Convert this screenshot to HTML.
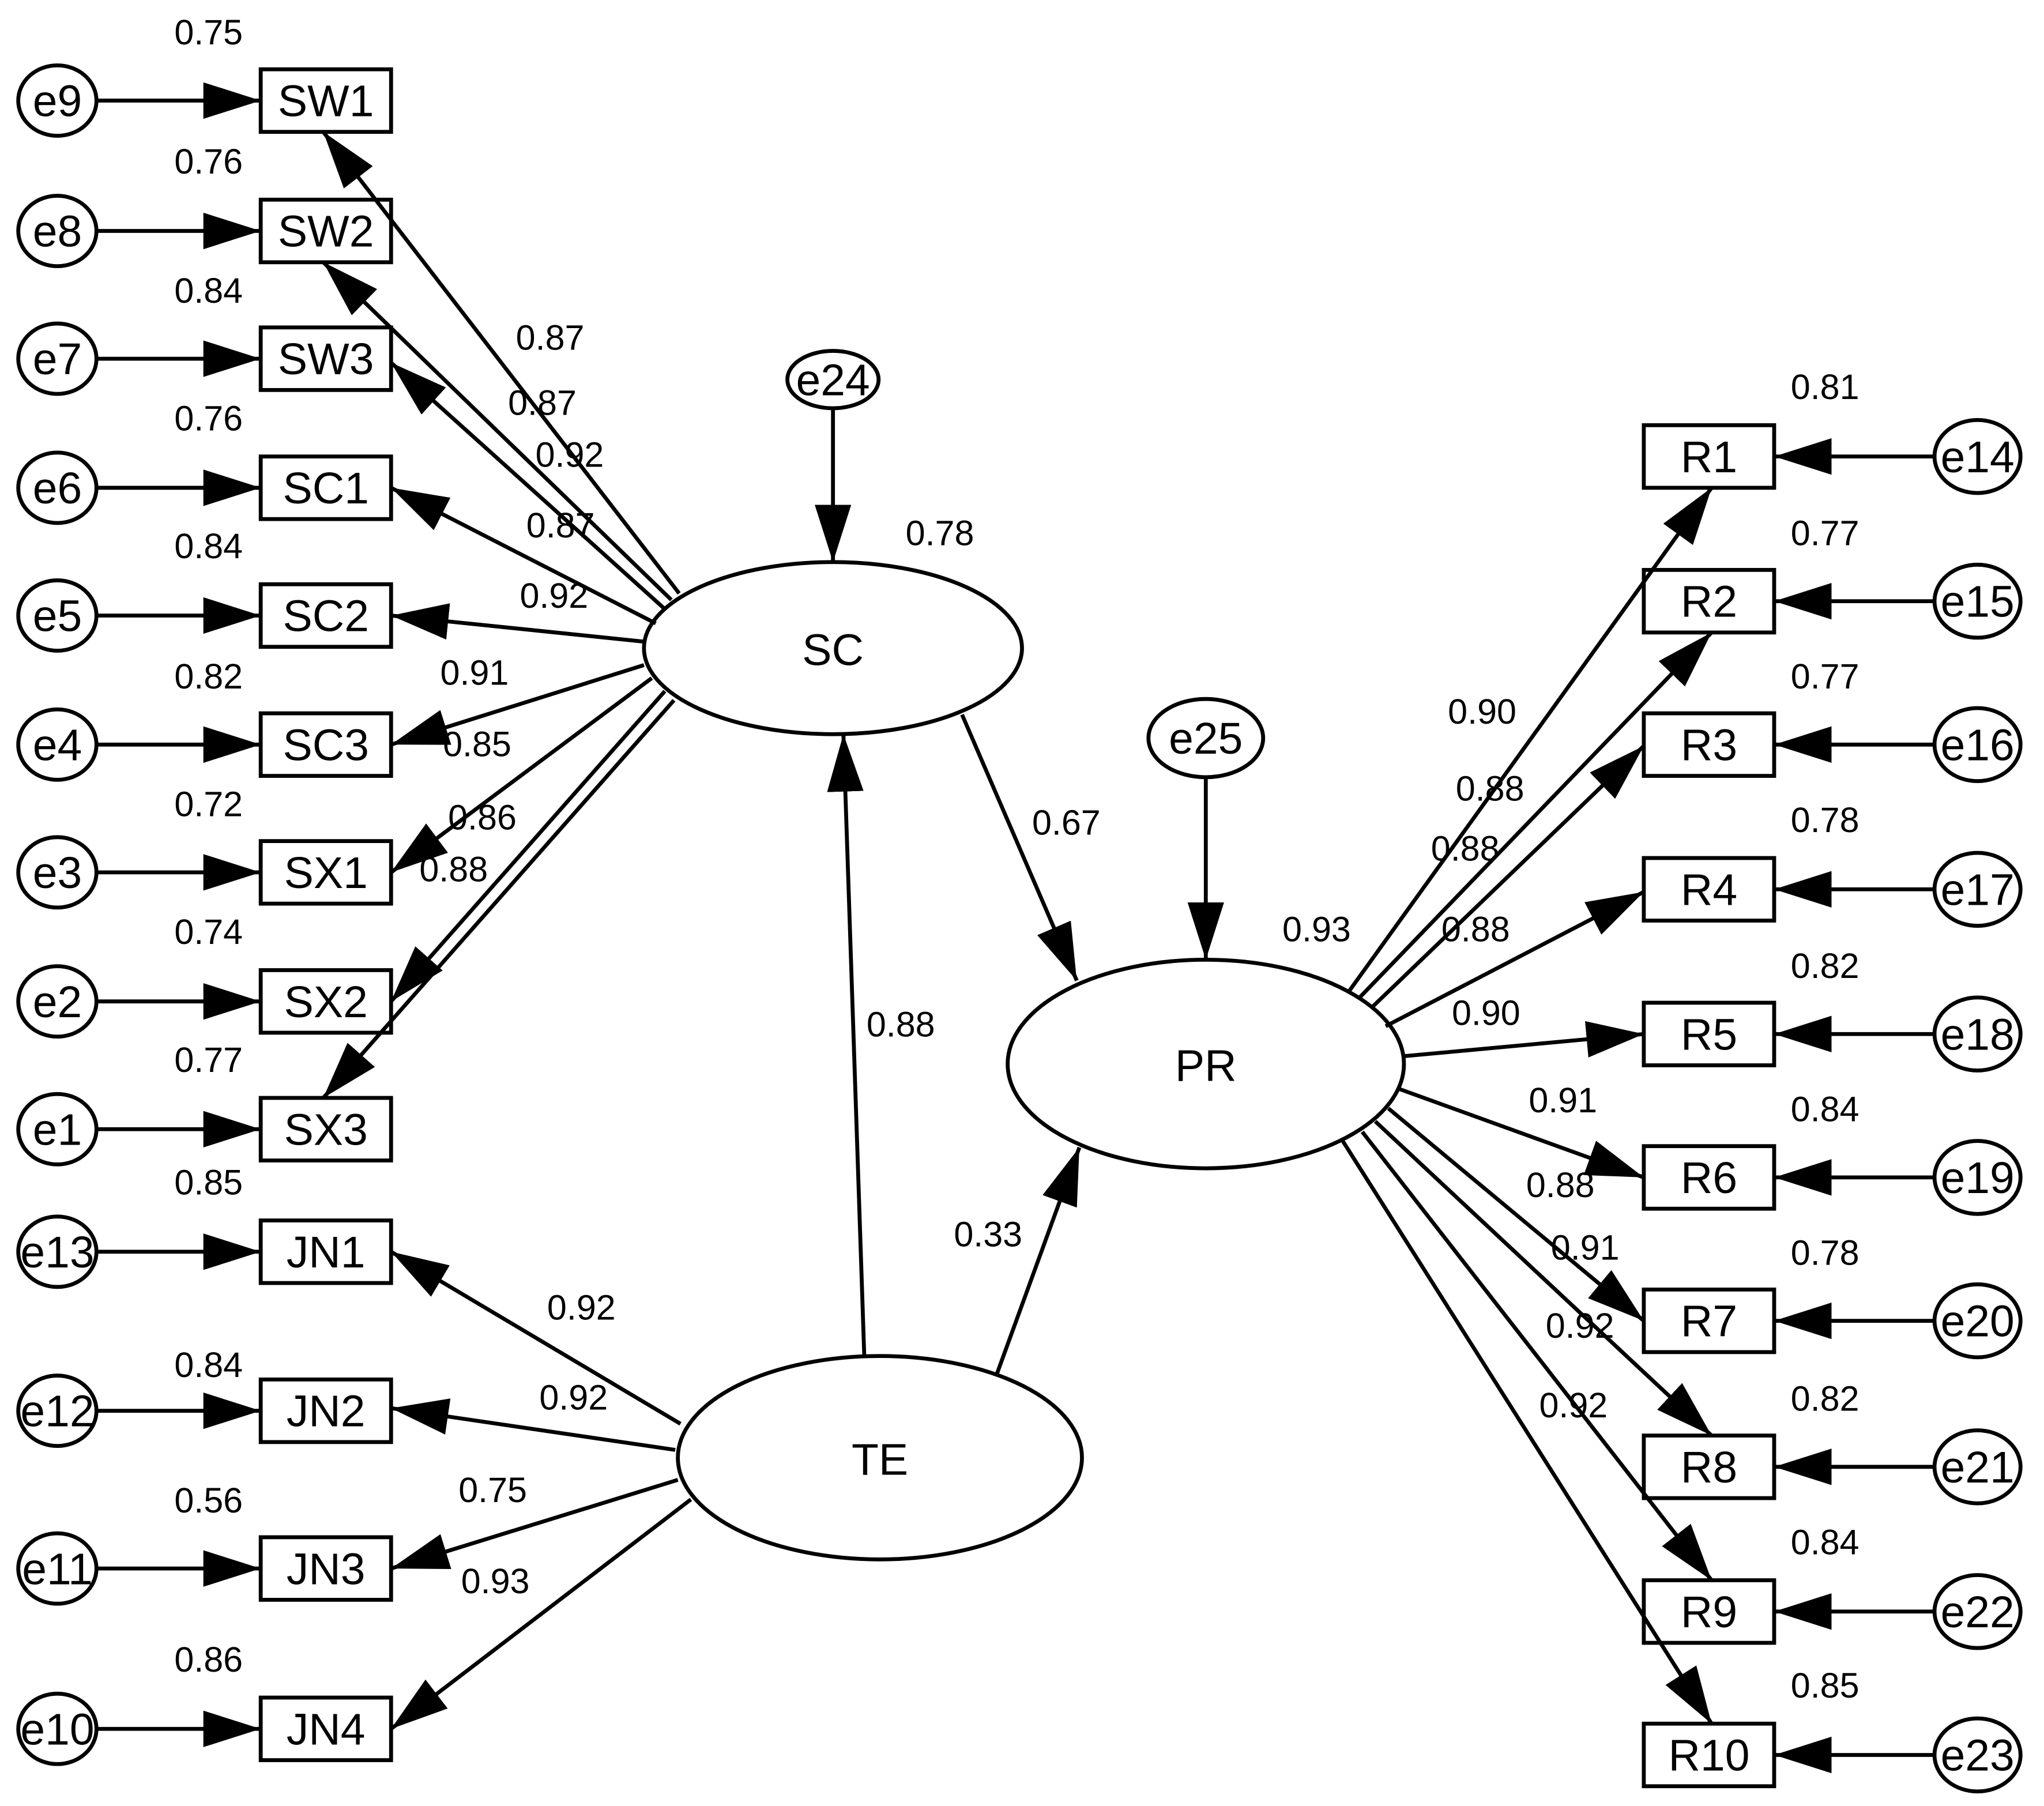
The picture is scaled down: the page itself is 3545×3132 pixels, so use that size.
<!DOCTYPE html>
<html><head><meta charset="utf-8"><style>html,body{margin:0;padding:0;background:#fff}svg{display:block}</style></head>
<body>
<svg xmlns="http://www.w3.org/2000/svg" width="3545" height="3132" viewBox="0 0 1568 1385" font-family="Liberation Sans, Arial, sans-serif">
<defs>
<marker id="a" markerUnits="userSpaceOnUse" markerWidth="46" markerHeight="30" refX="44" refY="14" orient="auto"><path d="M0,0 L44,14 L0,28 z" fill="#000"/></marker>
</defs>
<rect width="1568" height="1385" fill="#fff"/>
<g stroke="#000" stroke-width="3" fill="#fff">
<!-- left error circles -->
<g id="le">
<ellipse cx="44" cy="77" rx="30" ry="27"/><ellipse cx="44" cy="177" rx="30" ry="27"/><ellipse cx="44" cy="275" rx="30" ry="27"/>
<ellipse cx="44" cy="374" rx="30" ry="27"/><ellipse cx="44" cy="472" rx="30" ry="27"/><ellipse cx="44" cy="571" rx="30" ry="27"/>
<ellipse cx="44" cy="669" rx="30" ry="27"/><ellipse cx="44" cy="768" rx="30" ry="27"/><ellipse cx="44" cy="866" rx="30" ry="27"/>
<ellipse cx="44" cy="960" rx="30" ry="27"/><ellipse cx="44" cy="1082" rx="30" ry="27"/><ellipse cx="44" cy="1203" rx="30" ry="27"/><ellipse cx="44" cy="1326" rx="30" ry="27"/>
</g>
<!-- left boxes -->
<rect x="200" y="53" width="100" height="48"/><rect x="200" y="153" width="100" height="48"/><rect x="200" y="251" width="100" height="48"/>
<rect x="200" y="350" width="100" height="48"/><rect x="200" y="448" width="100" height="48"/><rect x="200" y="547" width="100" height="48"/>
<rect x="200" y="645" width="100" height="48"/><rect x="200" y="744" width="100" height="48"/><rect x="200" y="842" width="100" height="48"/>
<rect x="200" y="936" width="100" height="48"/><rect x="200" y="1058" width="100" height="48"/><rect x="200" y="1179" width="100" height="48"/><rect x="200" y="1302" width="100" height="48"/>
<!-- right boxes -->
<rect x="1261" y="326" width="100" height="48"/><rect x="1261" y="437" width="100" height="48"/><rect x="1261" y="547" width="100" height="48"/>
<rect x="1261" y="658" width="100" height="48"/><rect x="1261" y="769" width="100" height="48"/><rect x="1261" y="879" width="100" height="48"/>
<rect x="1261" y="989" width="100" height="48"/><rect x="1261" y="1101" width="100" height="48"/><rect x="1261" y="1212" width="100" height="48"/><rect x="1261" y="1322" width="100" height="48"/>
<!-- right error circles -->
<ellipse cx="1517" cy="350" rx="33" ry="28"/><ellipse cx="1517" cy="461" rx="33" ry="28"/><ellipse cx="1517" cy="571" rx="33" ry="28"/>
<ellipse cx="1517" cy="682" rx="33" ry="28"/><ellipse cx="1517" cy="793" rx="33" ry="28"/><ellipse cx="1517" cy="903" rx="33" ry="28"/>
<ellipse cx="1517" cy="1013" rx="33" ry="28"/><ellipse cx="1517" cy="1125" rx="33" ry="28"/><ellipse cx="1517" cy="1236" rx="33" ry="28"/><ellipse cx="1517" cy="1346" rx="33" ry="28"/>
<!-- latent -->
<ellipse cx="639" cy="497" rx="145" ry="66"/>
<ellipse cx="925" cy="816" rx="152" ry="80"/>
<ellipse cx="675" cy="1118" rx="155" ry="78"/>
<ellipse cx="639" cy="291" rx="35" ry="22"/>
<ellipse cx="925" cy="566" rx="44" ry="30"/>
</g>
<g stroke="#000" stroke-width="3" fill="none" marker-end="url(#a)">
<line x1="74" y1="77" x2="200" y2="77"/><line x1="74" y1="177" x2="200" y2="177"/><line x1="74" y1="275" x2="200" y2="275"/>
<line x1="74" y1="374" x2="200" y2="374"/><line x1="74" y1="472" x2="200" y2="472"/><line x1="74" y1="571" x2="200" y2="571"/>
<line x1="74" y1="669" x2="200" y2="669"/><line x1="74" y1="768" x2="200" y2="768"/><line x1="74" y1="866" x2="200" y2="866"/>
<line x1="74" y1="960" x2="200" y2="960"/><line x1="74" y1="1082" x2="200" y2="1082"/><line x1="74" y1="1203" x2="200" y2="1203"/><line x1="74" y1="1326" x2="200" y2="1326"/>
<line x1="1484" y1="350" x2="1361" y2="350"/><line x1="1484" y1="461" x2="1361" y2="461"/><line x1="1484" y1="571" x2="1361" y2="571"/>
<line x1="1484" y1="682" x2="1361" y2="682"/><line x1="1484" y1="793" x2="1361" y2="793"/><line x1="1484" y1="903" x2="1361" y2="903"/>
<line x1="1484" y1="1013" x2="1361" y2="1013"/><line x1="1484" y1="1125" x2="1361" y2="1125"/><line x1="1484" y1="1236" x2="1361" y2="1236"/><line x1="1484" y1="1346" x2="1361" y2="1346"/>
<line x1="639" y1="313" x2="639" y2="431"/>
<line x1="925" y1="596" x2="925" y2="736"/>
<line x1="738" y1="548" x2="826" y2="752"/>
<line x1="663" y1="1040" x2="647" y2="563"/>
<line x1="765" y1="1053" x2="828" y2="880"/>
<!-- SC loadings -->
<line x1="521" y1="455" x2="248" y2="101"/>
<line x1="515" y1="460" x2="248" y2="201"/>
<line x1="510" y1="467" x2="300" y2="278"/>
<line x1="503" y1="478" x2="300" y2="374"/>
<line x1="494" y1="492" x2="300" y2="472"/>
<line x1="494" y1="510" x2="300" y2="571"/>
<line x1="500" y1="520" x2="300" y2="669"/>
<line x1="510" y1="530" x2="300" y2="768"/>
<line x1="517" y1="537" x2="248" y2="842"/>
<!-- TE loadings -->
<line x1="522" y1="1092" x2="300" y2="960"/>
<line x1="518" y1="1112" x2="300" y2="1080"/>
<line x1="520" y1="1135" x2="300" y2="1203"/>
<line x1="530" y1="1150" x2="300" y2="1326"/>
<!-- PR loadings -->
<line x1="1035" y1="760" x2="1313" y2="374"/>
<line x1="1043" y1="765" x2="1313" y2="485"/>
<line x1="1053" y1="772" x2="1261" y2="572"/>
<line x1="1063" y1="787" x2="1261" y2="684"/>
<line x1="1077" y1="810" x2="1261" y2="793"/>
<line x1="1073" y1="835" x2="1261" y2="903"/>
<line x1="1065" y1="850" x2="1261" y2="1013"/>
<line x1="1055" y1="860" x2="1313" y2="1101"/>
<line x1="1045" y1="868" x2="1313" y2="1212"/>
<line x1="1030" y1="875" x2="1313" y2="1322"/>
</g>
<g font-size="34" text-anchor="middle" fill="#000">
<text x="44" y="89">e9</text><text x="44" y="189">e8</text><text x="44" y="287">e7</text><text x="44" y="386">e6</text><text x="44" y="484">e5</text>
<text x="44" y="583">e4</text><text x="44" y="681">e3</text><text x="44" y="780">e2</text><text x="44" y="878">e1</text>
<text x="44" y="972">e13</text><text x="44" y="1094">e12</text><text x="44" y="1215">e11</text><text x="44" y="1338">e10</text>
<text x="250" y="89">SW1</text><text x="250" y="189">SW2</text><text x="250" y="287">SW3</text><text x="250" y="386">SC1</text><text x="250" y="484">SC2</text>
<text x="250" y="583">SC3</text><text x="250" y="681">SX1</text><text x="250" y="780">SX2</text><text x="250" y="878">SX3</text>
<text x="250" y="972">JN1</text><text x="250" y="1094">JN2</text><text x="250" y="1215">JN3</text><text x="250" y="1338">JN4</text>
<text x="1311" y="362">R1</text><text x="1311" y="473">R2</text><text x="1311" y="583">R3</text><text x="1311" y="694">R4</text><text x="1311" y="805">R5</text>
<text x="1311" y="915">R6</text><text x="1311" y="1025">R7</text><text x="1311" y="1137">R8</text><text x="1311" y="1248">R9</text><text x="1311" y="1358">R10</text>
<text x="1517" y="362">e14</text><text x="1517" y="473">e15</text><text x="1517" y="583">e16</text><text x="1517" y="694">e17</text><text x="1517" y="805">e18</text>
<text x="1517" y="915">e19</text><text x="1517" y="1025">e20</text><text x="1517" y="1137">e21</text><text x="1517" y="1248">e22</text><text x="1517" y="1358">e23</text>
<text x="639" y="303">e24</text><text x="925" y="578">e25</text>
<text x="639" y="510">SC</text><text x="925" y="829">PR</text><text x="675" y="1131">TE</text>
</g>
<g font-size="27" text-anchor="middle" fill="#000">
<text x="160" y="34">0.75</text><text x="160" y="133">0.76</text><text x="160" y="232">0.84</text><text x="160" y="330">0.76</text>
<text x="160" y="428">0.84</text><text x="160" y="528">0.82</text><text x="160" y="626">0.72</text><text x="160" y="724">0.74</text><text x="160" y="822">0.77</text>
<text x="160" y="916">0.85</text><text x="160" y="1056">0.84</text><text x="160" y="1160">0.56</text><text x="160" y="1282">0.86</text>
<text x="1400" y="306">0.81</text><text x="1400" y="418">0.77</text><text x="1400" y="528">0.77</text><text x="1400" y="638">0.78</text><text x="1400" y="750">0.82</text>
<text x="1400" y="860">0.84</text><text x="1400" y="970">0.78</text><text x="1400" y="1082">0.82</text><text x="1400" y="1192">0.84</text><text x="1400" y="1302">0.85</text>
<text x="422" y="268">0.87</text><text x="416" y="318">0.87</text><text x="437" y="358">0.92</text><text x="430" y="412">0.87</text><text x="425" y="466">0.92</text>
<text x="364" y="525">0.91</text><text x="366" y="580">0.85</text><text x="370" y="636">0.86</text><text x="348" y="676">0.88</text>
<text x="446" y="1012">0.92</text><text x="440" y="1081">0.92</text><text x="378" y="1152">0.75</text><text x="380" y="1222">0.93</text>
<text x="721" y="418">0.78</text><text x="1010" y="722">0.93</text><text x="818" y="640">0.67</text><text x="691" y="795">0.88</text><text x="758" y="956">0.33</text>
<text x="1137" y="555">0.90</text><text x="1143" y="614">0.88</text><text x="1124" y="660">0.88</text><text x="1132" y="722">0.88</text><text x="1140" y="786">0.90</text>
<text x="1199" y="853">0.91</text><text x="1197" y="918">0.88</text><text x="1216" y="966">0.91</text><text x="1212" y="1026">0.92</text><text x="1207" y="1087">0.92</text>
</g>
</svg>
</body></html>
